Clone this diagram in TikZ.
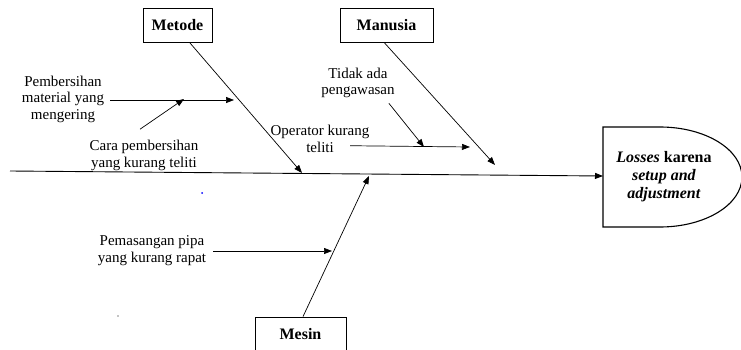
\documentclass[tikz,border=0pt]{standalone}
\usepackage{fontspec}
\setmainfont{Liberation Serif}
\usetikzlibrary{arrows.meta,calc}
\begin{document}
\begin{tikzpicture}[x=1pt,y=-1pt,
 cause/.style={draw,line width=0.8pt,minimum height=34pt,font=\fontsize{16}{18}\selectfont\bfseries,inner sep=0pt},
 lbl/.style={align=center,font=\fontsize{15}{16.5}\selectfont,inner sep=0pt},
 arr/.style={-{Triangle[length=8pt,width=6pt]},line width=0.7pt},
 effbox/.style={line width=1.1pt}]
\clip (0,0) rectangle (741,350);
% cause boxes
\node[cause,minimum width=69pt] (metode) at (177.5,25) {Metode};
\node[cause,minimum width=93pt] (manusia) at (386.5,25.5) {Manusia};
\node[cause,minimum width=91pt] (mesin) at (300.5,334) {Mesin};
% effect
\draw[effbox] (603,127) -- (660,127) .. controls (705.3,127) and (742,149.4) .. (742,177)
  .. controls (742,204.6) and (705.3,227) .. (660,227) -- (603,227) -- cycle;
\node[font=\fontsize{16}{18}\selectfont\bfseries,align=center,inner sep=0pt] (effect) at (664,177)
  {\textit{Losses} karena\\\textit{setup and}\\\textit{adjustment}};
\coordinate (effW) at (603,176);
\coordinate (tail) at (10,171);
\draw[arr,line width=0.9pt] (tail) -- (effW);
% bones
\coordinate (mtip) at (302,173);
\coordinate (ntip) at (495,165);
\coordinate (stip) at (369,176);
\draw[arr] ([xshift=12pt]metode.south) -- (mtip);
\draw[arr] ([xshift=-2pt]manusia.south) -- (ntip);
\draw[arr] ([xshift=2.5pt]mesin.north) -- (stip);
% sub causes
\node[lbl] (pm) at (63,99) {Pembersihan\\material yang\\mengering};
\coordinate (c1) at (234,100);
\draw[arr] ($(pm.east)+(6,1)$) -- (c1);
\node[lbl] (cp) at (144,155.5) {Cara pembersihan\\yang kurang teliti};
\coordinate (c2) at (184,99);
\draw[arr] ($(cp.north)+(-4,-11)$) -- (c2);
\node[lbl] (ta) at (358,83) {Tidak ada\\pengawasan};
\coordinate (c3) at (424,147);
\draw[arr] ($(ta.south east)+(-6,5)$) -- (c3);
\node[lbl] (op) at (320,139) {Operator kurang\\teliti};
\coordinate (c4) at (470,147);
\draw[arr] ($(op.south)+(30,-7)$) -- (c4);
\node[lbl] (pp) at (152,250.5) {Pemasangan pipa\\yang kurang rapat};
\coordinate (c5) at (332,251);
\draw[arr] ($(pp.east)+(7,0.5)$) -- (c5);
% stray dots
\fill[blue] (202,193) circle (1pt);
\fill (118,316) circle (0.7pt);
\end{tikzpicture}
\end{document}
